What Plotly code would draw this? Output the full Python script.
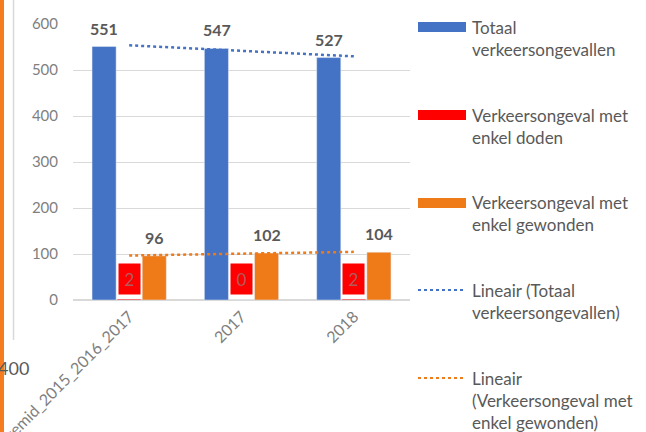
import numpy as np
import plotly.graph_objects as go

# Categories and series values
categories = ["gemid_2015_2016_2017", "2017", "2018"]
totaal = [551, 547, 527]
doden = [2, 0, 2]
gewonden = [96, 102, 104]

legend_names = [
    "Totaal<br>verkeersongevallen",
    "Verkeersongeval met<br>enkel doden",
    "Verkeersongeval met<br>enkel gewonden",
    "Lineair (Totaal<br>verkeersongevallen)",
    "Lineair<br>(Verkeersongeval met<br>enkel gewonden)",
]

BLUE = "#4472c4"
RED = "#ff0000"
ORANGE = "#ee7a18"
GRID = "#d9d9d9"
TXT = "#595959"
FONT = "Lato"

W, H = 646, 432
ML, MR, MT, MB = 73, 236, 24, 132
PW, PH = W - ML - MR, H - MT - MB


def px(x):
    return (x - ML) / PW


def py(y):
    return (H - MB - y) / PH


fig = go.Figure()
fig.add_trace(go.Bar(x=categories, y=totaal, marker_color=BLUE, name="Totaal verkeersongevallen"))
fig.add_trace(go.Bar(x=categories, y=doden, marker_color=RED, name="Verkeersongeval met enkel doden"))
fig.add_trace(go.Bar(x=categories, y=gewonden, marker_color=ORANGE, name="Verkeersongeval met enkel gewonden"))

# Linear trend lines over the category index
idx = np.arange(len(categories))
for series, color in ((totaal, BLUE), (gewonden, ORANGE)):
    k, b = np.polyfit(idx, series, 1)
    fig.add_trace(go.Scatter(x=categories, y=k * idx + b, mode="lines",
                             line=dict(color=color, width=2.5, dash="dot"),
                             hoverinfo="skip"))

annotations = []
# value labels above the blue and orange bars (x given as category index)
for series, shift in ((totaal, -25), (gewonden, 25)):
    for i, v in enumerate(series):
        annotations.append(dict(x=i, y=v, xref="x", yref="y", text=str(v), showarrow=False,
                                xshift=shift, yanchor="bottom", yshift=7,
                                font=dict(family=FONT, size=16, color=TXT, weight="bold")))
# boxed labels for the red series
for i, v in enumerate(doden):
    annotations.append(dict(x=i, y=0, xref="x", yref="y", text=str(v), showarrow=False,
                            yanchor="bottom", yshift=5, bgcolor=RED, width=19, height=28,
                            font=dict(family=FONT, size=17, color="#b35a5a")))

# legend text
legend_tops = [15, 103, 190, 278, 366]
for name, top in zip(legend_names, legend_tops):
    annotations.append(dict(x=px(470), y=py(top), xref="paper", yref="paper", text=name,
                            showarrow=False, xanchor="left", yanchor="top", align="left",
                            font=dict(family=FONT, size=17, color=TXT)))

annotations.append(dict(x=px(31), y=py(368), xref="paper", yref="paper", text="400",
                        showarrow=False, xanchor="right", yanchor="middle",
                        font=dict(family=FONT, size=18, color=TXT)))

shapes = []
# legend keys
for color, cy in ((BLUE, 27), (RED, 115), (ORANGE, 203)):
    shapes.append(dict(type="rect", xref="paper", yref="paper", x0=px(418), x1=px(466),
                       y0=py(cy - 5), y1=py(cy + 5), fillcolor=color, line_width=0))
for color, cy in ((BLUE, 290), (ORANGE, 378)):
    shapes.append(dict(type="line", xref="paper", yref="paper", x0=px(418), x1=px(466),
                       y0=py(cy), y1=py(cy), line=dict(color=color, width=2, dash="dot")))
# frame lines on the left edge
shapes.append(dict(type="line", xref="paper", yref="paper", x0=px(13.5), x1=px(13.5),
                   y0=py(0), y1=py(340), line=dict(color=GRID, width=1.5)))
shapes.append(dict(type="rect", xref="paper", yref="paper", x0=px(0), x1=px(4),
                   y0=py(-5), y1=py(440), fillcolor="#f57c1f", line_width=0, layer="above"))

fig.update_layout(
    width=W, height=H,
    margin=dict(l=ML, r=MR, t=MT, b=MB),
    paper_bgcolor="white", plot_bgcolor="white",
    barmode="group", bargap=0.33, bargroupgap=0.04,
    showlegend=False,
    font=dict(family=FONT, color=TXT),
    annotations=annotations,
    shapes=shapes,
)
fig.update_yaxes(range=[0, 600], dtick=100, showgrid=True, gridcolor=GRID, gridwidth=1,
                 zeroline=True, zerolinecolor=GRID, showline=False, automargin=False,
                 tickfont=dict(family=FONT, size=15, color="#7f7f7f"), ticklabelstandoff=14)
fig.update_xaxes(type="category", range=[-0.5, 2.5], automargin=False,
                 showline=True, linecolor=GRID, tickangle=-45, ticks="",
                 tickfont=dict(family=FONT, size=16, color="#7f7f7f"))

fig.write_html("out.html")
